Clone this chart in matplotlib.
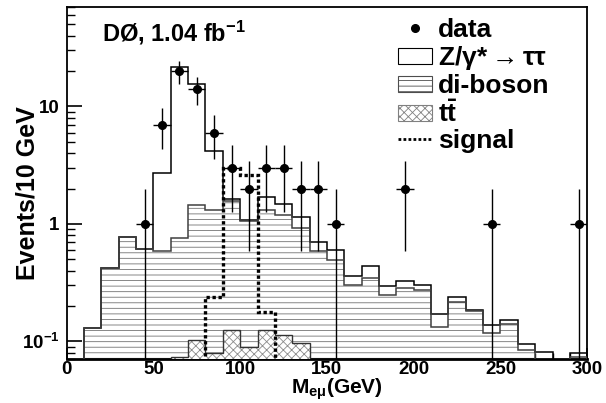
import matplotlib
matplotlib.use('Agg')
import matplotlib.pyplot as plt
import numpy as np
from matplotlib.patches import Patch
from matplotlib.lines import Line2D
from matplotlib.ticker import MultipleLocator, FixedLocator, FixedFormatter, LogLocator

plt.rcParams['font.family'] = ['Liberation Sans', 'DejaVu Sans']
plt.rcParams['font.weight'] = 'bold'
plt.rcParams['mathtext.fontset'] = 'custom'
plt.rcParams['mathtext.rm'] = 'Liberation Sans'
plt.rcParams['mathtext.it'] = 'Liberation Sans:italic'
plt.rcParams['mathtext.bf'] = 'Liberation Sans:bold'
plt.rcParams['hatch.linewidth'] = 0.6

# 10 GeV bins, 0..300
edges = np.arange(0, 310, 10)

# stacked totals (Z + di-boson + ttbar)
z_total = [0, 0.130, 0.418, 0.769, 0.616, 2.72, 21.7, 15.4, 4.21, 1.62,
           1.08, 1.70, 1.49, 1.15, 0.70, 0.596, 0.36, 0.441, 0.294, 0.329,
           0.304, 0.171, 0.239, 0.185, 0.137, 0.152, 0.095, 0.081, 0, 0.080]
# di-boson + ttbar
diboson = [0, 0.130, 0.418, 0.769, 0.616, 0.585, 0.76, 1.46, 1.32, 1.57,
           1.06, 1.31, 1.20, 0.92, 0.584, 0.497, 0.302, 0.347, 0.248, 0.285,
           0.272, 0.133, 0.215, 0.180, 0.118, 0.141, 0.084, 0.04, 0, 0.074]
ttbar = [0, 0, 0, 0, 0, 0, 0.073, 0.103, 0.080, 0.126,
         0.090, 0.126, 0.113, 0.096, 0, 0, 0, 0, 0, 0,
         0, 0, 0, 0, 0, 0, 0, 0, 0, 0]
signal = [0, 0, 0, 0, 0, 0, 0, 0, 0.237, 3.0,
          2.63, 0.179, 0, 0, 0, 0, 0, 0, 0, 0,
          0, 0, 0, 0, 0, 0, 0, 0, 0, 0]

data_x = [45, 55, 65, 75, 85, 95, 105, 115, 125, 135, 145, 155, 195, 245, 295]
data_n = [1, 7, 20, 14, 6, 3, 2, 3, 3, 2, 2, 1, 2, 1, 1]

LOW = 1e-3
def fl(v):
    return np.clip(np.asarray(v, float), LOW, None)

fig = plt.figure(figsize=(6.06, 4.03), dpi=100)
ax = fig.add_axes([0.110, 0.108, 0.859, 0.874])

dotted = (0, (1.0, 0.8))

ax.stairs(fl(z_total), edges, baseline=LOW, fill=True, facecolor='white', zorder=1)
ax.stairs(fl(diboson), edges, baseline=LOW, fill=True, facecolor='white',
          edgecolor='0.45', hatch='---', linewidth=0, zorder=2)
ax.stairs(fl(ttbar), edges, baseline=LOW, fill=True, facecolor='white',
          edgecolor='0.55', hatch='xxxx', linewidth=0, zorder=3)
ax.stairs(fl(z_total), edges, baseline=LOW, color='black', lw=1.1, zorder=4)
ax.stairs(fl(diboson), edges, baseline=LOW, color='0.25', lw=1.1, zorder=4)
ax.stairs(fl(ttbar), edges, baseline=LOW, color='0.2', lw=1.0, zorder=4)
ax.stairs(fl(signal), edges, baseline=LOW, color='black', lw=2.4, ls=dotted, zorder=5)

n = np.array(data_n, float)
err = np.sqrt(n)
lo = np.minimum(err, n - LOW)
ax.errorbar(data_x, n, yerr=[lo, err], xerr=5, fmt='o', color='black', ms=5.5,
            elinewidth=1, capsize=0, zorder=6)

ax.set_yscale('log')
ax.set_xlim(0, 300)
ax.set_ylim(0.07, 70)
ax.xaxis.set_major_locator(MultipleLocator(50))
ax.xaxis.set_minor_locator(MultipleLocator(10))
ax.yaxis.set_major_locator(FixedLocator([0.1, 1, 10]))
ax.yaxis.set_major_formatter(FixedFormatter(['10$^{\\mathbf{-1}}$', '1', '10']))
ax.yaxis.set_minor_locator(LogLocator(base=10, subs=np.arange(2, 10)))
ax.yaxis.set_minor_formatter(plt.NullFormatter())
ax.tick_params(axis='both', which='both', direction='in', top=False, right=False)
ax.tick_params(axis='x', which='major', length=8, width=1.2, labelsize=13.5, pad=1)
ax.tick_params(axis='x', which='minor', length=4, width=1)
ax.tick_params(axis='y', which='major', length=11, width=1.2, labelsize=13.5, pad=5)
ax.tick_params(axis='y', which='minor', length=6, width=1)
for s in ax.spines.values():
    s.set_linewidth(1.3)
ax.spines['bottom'].set_linewidth(2)

ax.text(0.067, 0.902, 'DØ, 1.04 fb$^{\\mathbf{-1}}$', transform=ax.transAxes,
        fontsize=17, fontweight='bold')

handles = [
    Line2D([], [], marker='o', ls='none', color='black', ms=5.5),
    Patch(facecolor='white', edgecolor='black', lw=0.8),
    Patch(facecolor='white', edgecolor='0.3', hatch='---', lw=0.8),
    Patch(facecolor='white', edgecolor='0.5', hatch='xxxx', lw=0.8),
    Line2D([], [], color='black', ls=dotted, lw=2),
]
labels = ['data', 'Z/$\\mathrm{\\gamma{*}\\rightarrow\\tau\\tau}$', 'di-boson',
          '$\\mathbf{t\\bar{t}}$', 'signal']
fig.legend(handles, labels, loc='upper left', bbox_to_anchor=(0.657, 0.955),
           frameon=False, fontsize=19, borderpad=0, borderaxespad=0,
           handlelength=1.3, handleheight=0.6, handletextpad=0.2, labelspacing=0.08)

fig.text(0.556, 0.002, 'M$_{\\mathbf{eμ}}$(GeV)', ha='center', va='bottom',
         fontsize=15, fontweight='bold')
fig.text(0.045, 0.52, 'Events/10 GeV', rotation=90, ha='center', va='center',
         fontsize=18, fontweight='bold')

fig.savefig('out.png', dpi=100)
